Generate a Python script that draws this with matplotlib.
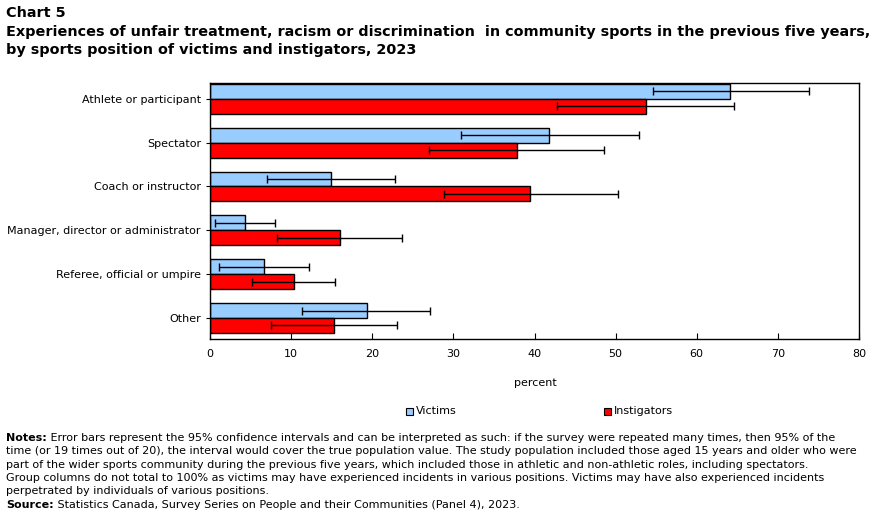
import numpy as np
import matplotlib.pyplot as plt
from matplotlib.patches import Rectangle

# Data
categories = ['Athlete or participant', 'Spectator', 'Coach or instructor',
              'Manager, director or administrator', 'Referee, official or umpire', 'Other']
victims = [64.1, 41.8, 14.9, 4.3, 6.6, 19.3]
victims_lo = [54.6, 30.9, 7.0, 0.6, 1.1, 11.4]
victims_hi = [73.8, 52.9, 22.8, 8.0, 12.2, 27.1]
instig = [53.7, 37.8, 39.5, 16.0, 10.3, 15.3]
instig_lo = [42.8, 27.0, 28.8, 8.2, 5.2, 7.5]
instig_hi = [64.6, 48.6, 50.3, 23.7, 15.4, 23.1]
xticks = [0, 10, 20, 30, 40, 50, 60, 70, 80]

fig = plt.figure(figsize=(8.85, 5.15), dpi=100)
ax = fig.add_axes([210 / 885, 1 - 339 / 515, 649 / 885, 256 / 515])

y = np.arange(len(categories))
h = 0.34
v = np.array(victims)
i = np.array(instig)
ax.barh(y - h / 2, v, height=h, color='#99CCFF', edgecolor='black', linewidth=1, label='Victims')
ax.barh(y + h / 2, i, height=h, color='#FF0000', edgecolor='black', linewidth=1, label='Instigators')
ax.errorbar(v, y - h / 2, xerr=[v - np.array(victims_lo), np.array(victims_hi) - v],
            fmt='none', ecolor='black', elinewidth=1, capsize=3, capthick=1)
ax.errorbar(i, y + h / 2, xerr=[i - np.array(instig_lo), np.array(instig_hi) - i],
            fmt='none', ecolor='black', elinewidth=1, capsize=3, capthick=1)

ax.set_xlim(0, 80)
ax.set_ylim(5.48, -0.36)
ax.set_xticks(xticks)
ax.set_yticks(y)
ax.set_yticklabels(categories, fontsize=8)
ax.tick_params(axis='x', direction='in', length=4, labelsize=8, pad=7)
ax.tick_params(axis='y', direction='out', length=3)
for s in ax.spines.values():
    s.set_linewidth(1)
fig.text(535 / 885, 1 - 383 / 515, 'percent', ha='center', va='center', fontsize=8)

# legend
fig.patches.append(Rectangle((406 / 885, 1 - 415 / 515), 7 / 885, 7 / 515, transform=fig.transFigure,
                             facecolor='#99CCFF', edgecolor='black', linewidth=0.8))
fig.text(416 / 885, 1 - 411 / 515, 'Victims', va='center', fontsize=8)
fig.patches.append(Rectangle((604 / 885, 1 - 415 / 515), 7 / 885, 7 / 515, transform=fig.transFigure,
                             facecolor='#FF0000', edgecolor='black', linewidth=0.8))
fig.text(614 / 885, 1 - 411 / 515, 'Instigators', va='center', fontsize=8)

# titles
tfs = 10.4
fig.text(6 / 885, 1 - 13 / 515, 'Chart 5', fontsize=tfs, fontweight='bold', va='center')
fig.text(6 / 885, 1 - 32 / 515,
         'Experiences of unfair treatment, racism or discrimination  in community sports in the previous five years,',
         fontsize=tfs, fontweight='bold', va='center')
fig.text(6 / 885, 1 - 50 / 515, 'by sports position of victims and instigators, 2023',
         fontsize=tfs, fontweight='bold', va='center')

# notes
fig.canvas.draw()
r = fig.canvas.get_renderer()
fs = 8.05
lines = [
    ('Notes:', ' Error bars represent the 95% confidence intervals and can be interpreted as such: if the survey were repeated many times, then 95% of the'),
    ('', 'time (or 19 times out of 20), the interval would cover the true population value. The study population included those aged 15 years and older who were'),
    ('', 'part of the wider sports community during the previous five years, which included those in athletic and non-athletic roles, including spectators.'),
    ('', 'Group columns do not total to 100% as victims may have experienced incidents in various positions. Victims may have also experienced incidents'),
    ('', 'perpetrated by individuals of various positions.'),
    ('Source:', ' Statistics Canada, Survey Series on People and their Communities (Panel 4), 2023.'),
]
y0 = 438
for k, (b, t) in enumerate(lines):
    yy = 1 - (y0 + k * 13.3) / 515
    x = 6 / 885
    if b:
        tb = fig.text(x, yy, b, fontsize=fs, fontweight='bold', va='center')
        w = tb.get_window_extent(r).width
        x += w / 885
    fig.text(x, yy, t, fontsize=fs, va='center')

fig.savefig('out.png', dpi=100)
